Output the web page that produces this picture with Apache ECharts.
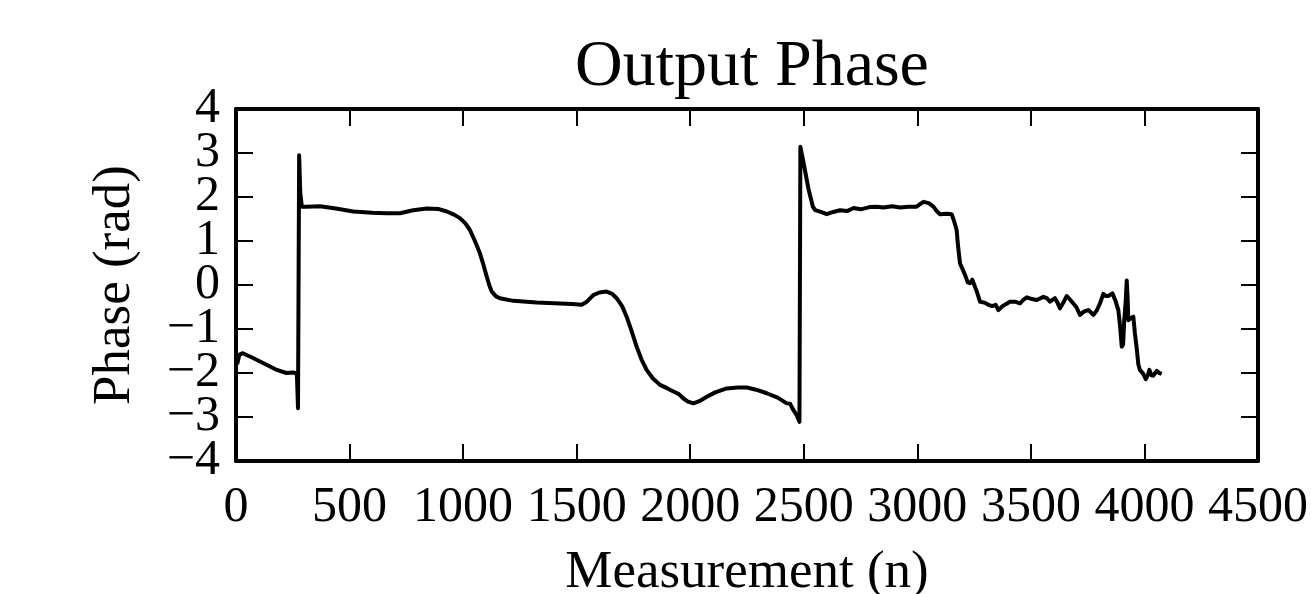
<!DOCTYPE html>
<html>
<head>
    <meta charset="utf-8">
    <title>Output Phase</title>
    <script src="https://cdn.jsdelivr.net/npm/echarts@6/dist/echarts.min.js"></script>
    <style>
        html, body {
            margin: 0;
            padding: 0;
            overflow: hidden;
            background: #fff;
        }
        #main {
            width: 1311px;
            height: 594px;
        }
    </style>
</head>
<body>
    <div id="main"></div>
    <script type="text/javascript">
        // values
        var measurement = [5, 15, 30, 75, 130, 180, 222, 250, 268, 273, 278, 283, 290, 311, 370, 440, 516, 600, 663, 722,
            780, 840, 890, 928, 960, 986, 1010, 1030, 1052, 1074, 1090, 1104, 1115, 1126, 1145, 1162, 1221, 1324, 1427, 1480,
            1522, 1545, 1573, 1600, 1632, 1656, 1676, 1700, 1720, 1742, 1764, 1786, 1808, 1835, 1867, 1900, 1926, 1950, 1970, 1990,
            2014, 2040, 2073, 2110, 2161, 2210, 2249, 2290, 2337, 2385, 2425, 2440, 2454, 2468, 2481, 2485, 2500, 2520, 2540, 2550,
            2575, 2601, 2630, 2660, 2690, 2720, 2750, 2790, 2821, 2850, 2890, 2924, 2960, 2997, 3015, 3027, 3050, 3071, 3085, 3100,
            3130, 3151, 3162, 3173, 3180, 3188, 3200, 3210, 3222, 3232, 3242, 3250, 3262, 3276, 3295, 3313, 3330, 3345, 3357, 3375,
            3395, 3408, 3430, 3452, 3468, 3482, 3505, 3526, 3555, 3570, 3584, 3595, 3606, 3617, 3628, 3643, 3658, 3672, 3687, 3700,
            3716, 3735, 3753, 3764, 3775, 3790, 3804, 3819, 3830, 3841, 3850, 3859, 3872, 3885, 3893, 3900, 3906, 3911, 3917, 3922,
            3926, 3929, 3940, 3951, 3958, 3966, 3973, 3980, 3995, 4006, 4015, 4022, 4030, 4039, 4047, 4054, 4065, 4076];
        var phase = [-1.80, -1.58, -1.55, -1.66, -1.80, -1.93, -2.00, -1.99, -2.01, -2.80, 2.95, 2.10, 1.78, 1.78, 1.79, 1.74, 1.67, 1.64, 1.63, 1.63,
            1.70, 1.74, 1.73, 1.67, 1.60, 1.52, 1.40, 1.25, 1.00, 0.72, 0.45, 0.19, 0.00, -0.15, -0.26, -0.30, -0.36, -0.40, -0.42, -0.43,
            -0.45, -0.38, -0.23, -0.17, -0.15, -0.20, -0.30, -0.48, -0.72, -1.05, -1.40, -1.70, -1.93, -2.12, -2.27, -2.35, -2.42, -2.48, -2.58, -2.65,
            -2.69, -2.64, -2.54, -2.44, -2.35, -2.33, -2.33, -2.38, -2.46, -2.56, -2.69, -2.70, -2.84, -2.95, -3.11, 3.14, 2.75, 2.20, 1.78, 1.70,
            1.66, 1.61, 1.66, 1.70, 1.68, 1.75, 1.72, 1.77, 1.78, 1.76, 1.79, 1.76, 1.78, 1.78, 1.85, 1.89, 1.86, 1.78, 1.68, 1.61,
            1.62, 1.61, 1.45, 1.25, 0.85, 0.49, 0.35, 0.23, 0.06, 0.04, 0.12, 0.11, -0.15, -0.38, -0.40, -0.45, -0.48, -0.45, -0.57, -0.48,
            -0.42, -0.38, -0.38, -0.42, -0.33, -0.28, -0.32, -0.34, -0.27, -0.30, -0.38, -0.34, -0.30, -0.40, -0.53, -0.40, -0.25, -0.33, -0.42, -0.50,
            -0.68, -0.60, -0.57, -0.62, -0.68, -0.58, -0.42, -0.20, -0.25, -0.25, -0.22, -0.19, -0.35, -0.57, -0.95, -1.40, -1.35, -0.80, -0.40, 0.10,
            -0.30, -0.80, -0.75, -0.72, -1.10, -1.44, -1.80, -1.93, -2.02, -2.14, -2.05, -1.93, -2.05, -2.06, -2.00, -1.95, -2.00, -2.02];

        var xMin = 0, xMax = 4500, xStep = 500;
        var yMin = -4, yMax = 4, yStep = 1;

        var serif = 'Liberation Serif';
        var points = measurement.map(function (n, i) {
            return [n, phase[i]];
        });

        // matplotlib style labels: no thousands separator, real minus sign
        function plainNumber(v) {
            return v < 0 ? '\u2212' + Math.abs(v) : String(v);
        }
        // the y labels are taller than their spacing, so even and odd ones
        // go on two stacked left axes and echarts does not drop any of them
        function evenOnly(v) {
            return Math.abs(v) % 2 === 0 ? plainNumber(v) : '';
        }
        function oddOnly(v) {
            return Math.abs(v) % 2 === 1 ? plainNumber(v) : '';
        }

        var axisLineStyle = { show: true, onZero: false, lineStyle: { color: '#000', width: 4 } };
        var tickStyle = { show: true, inside: true, length: 17, lineStyle: { color: '#000', width: 2 } };
        var yLabel = {
            fontFamily: serif, fontSize: 50, color: '#000', margin: 16,
            showMinLabel: true, showMaxLabel: true, hideOverlap: false
        };

        var myChart = echarts.init(document.getElementById('main'));
        var option = {
            animation: false,
            backgroundColor: '#fff',
            title: {
                text: 'Output Phase',
                left: 747,
                top: 30,
                textAlign: 'center',
                textStyle: { fontFamily: serif, fontSize: 66, fontWeight: 'normal', color: '#000' }
            },
            // v6 would otherwise shrink the grid to keep the axis name inside the canvas
            grid: { left: 236, right: 53, top: 109, bottom: 133, outerBoundsMode: 'none' },
            xAxis: [{
                type: 'value',
                min: xMin, max: xMax, interval: xStep,
                name: 'Measurement (n)',
                nameLocation: 'middle',
                nameGap: 86,
                nameTextStyle: { fontFamily: serif, fontSize: 53, color: '#000' },
                axisLine: axisLineStyle,
                axisTick: tickStyle,
                splitLine: { show: false },
                axisLabel: {
                    fontFamily: serif, fontSize: 50, color: '#000', margin: 22,
                    showMinLabel: true, showMaxLabel: true, hideOverlap: false,
                    formatter: plainNumber
                }
            }, {
                type: 'value',
                position: 'top',
                min: xMin, max: xMax, interval: xStep,
                axisLine: axisLineStyle,
                axisTick: tickStyle,
                splitLine: { show: false },
                axisLabel: { show: false }
            }],
            yAxis: [{
                type: 'value',
                position: 'left',
                min: yMin, max: yMax, interval: yStep,
                name: 'Phase (rad)',
                nameLocation: 'middle',
                nameGap: 94,
                nameTextStyle: { fontFamily: serif, fontSize: 53, color: '#000' },
                axisLine: axisLineStyle,
                axisTick: tickStyle,
                splitLine: { show: false },
                axisLabel: Object.assign({ formatter: evenOnly }, yLabel)
            }, {
                type: 'value',
                position: 'left',
                offset: 0,
                min: yMin, max: yMax, interval: yStep,
                axisLine: { show: false },
                axisTick: { show: false },
                splitLine: { show: false },
                axisLabel: Object.assign({ formatter: oddOnly }, yLabel)
            }, {
                type: 'value',
                position: 'right',
                min: yMin, max: yMax, interval: yStep,
                axisLine: axisLineStyle,
                axisTick: tickStyle,
                splitLine: { show: false },
                axisLabel: { show: false }
            }],
            series: [{
                name: 'Phase',
                type: 'line',
                data: points,
                showSymbol: false,
                lineStyle: { color: '#000', width: 4, join: 'round' }
            }]
        };
        myChart.setOption(option);
    </script>
</body>
</html>
